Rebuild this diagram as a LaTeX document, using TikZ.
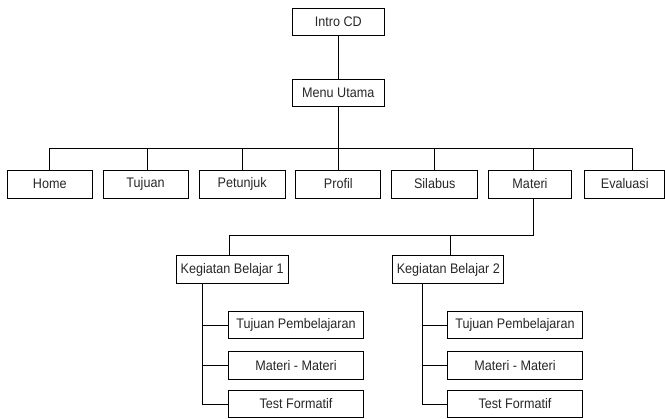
\documentclass[tikz,border=0pt]{standalone}
\usepackage{fontspec}
\usepackage{graphicx}
\setmainfont{Liberation Sans}
\newcommand{\tallT}[1]{\scalebox{1}[1.1]{#1}}
\begin{document}
\begin{tikzpicture}[x=1pt,y=-1pt,line width=0.9pt,
  box/.style={draw,rectangle,inner sep=0pt,minimum height=28pt,font=\fontsize{12.6}{14}\selectfont,text=black!85},
  conn/.style={draw,line width=0.9pt}]
\useasboundingbox (0,0) rectangle (665,419);
% level 0-1
\node[box,minimum width=92pt,minimum height=27pt] (intro) at (338.3,21.7) {\tallT{Intro CD}};
\node[box,minimum width=92pt,minimum height=27.5pt] (menu) at (338.3,93) {\tallT{Menu Utama}};
% level 2
\node[box,minimum width=85pt] (home) at (49.8,184) {\tallT{Home}};
\node[box,minimum width=85pt] (tujuan) at (145.5,184) {\tallT{Tujuan}};
\node[box,minimum width=86pt] (petunjuk) at (242.2,184) {\tallT{Petunjuk}};
\node[box,minimum width=85pt] (profil) at (338.3,184) {\tallT{Profil}};
\node[box,minimum width=86pt] (silabus) at (434.7,184) {\tallT{Silabus}};
\node[box,minimum width=83.4pt] (materi) at (530,184) {\tallT{Materi}};
\node[box,minimum width=80pt,anchor=west] (evaluasi) at (584.3,184) {\tallT{Evaluasi}};
% level 3
\node[box,minimum width=112pt] (kb1) at (232.2,269.7) {\tallT{Kegiatan Belajar 1}};
\node[box,minimum width=111pt] (kb2) at (448.3,269.7) {\tallT{Kegiatan Belajar 2}};
% level 4
\node[box,minimum width=135.4pt,minimum height=27.5pt] (tp1) at (296,325) {\tallT{Tujuan Pembelajaran}};
\node[box,minimum width=135.4pt,minimum height=27.5pt] (mm1) at (296,365.5) {\tallT{Materi - Materi}};
\node[box,minimum width=135.4pt,minimum height=27.5pt] (tf1) at (296,404) {\tallT{Test Formatif}};
\node[box,minimum width=135.4pt,minimum height=27.5pt] (tp2) at (515,325) {\tallT{Tujuan Pembelajaran}};
\node[box,minimum width=135.4pt,minimum height=27.5pt] (mm2) at (515,365.5) {\tallT{Materi - Materi}};
\node[box,minimum width=135.4pt,minimum height=27.5pt] (tf2) at (515,404) {\tallT{Test Formatif}};
% bus coordinates
\coordinate (j1) at (49,148.3);
\coordinate (j2) at (147,148.3);
\coordinate (j3) at (242.7,148.3);
\coordinate (jm) at (338.3,148.3);
\coordinate (j5) at (434,148.3);
\coordinate (j6) at (533.3,148.3);
\coordinate (j7) at (632.3,148.3);
\coordinate (k1) at (229.3,235.7);
\coordinate (k2) at (450.7,235.7);
\coordinate (km) at (533.3,235.7);
\coordinate (s1) at (202.7,283.7);
\coordinate (s2) at (422.3,283.7);
% connectors
\draw[conn] (intro) -- (menu);
\draw[conn] (menu.south) -- (jm);
\draw[conn] (j1) -- (j7);
\draw[conn] (j1) -- (j1 |- home.north);
\draw[conn] (j2) -- (j2 |- tujuan.north);
\draw[conn] (j3) -- (j3 |- petunjuk.north);
\draw[conn] (jm) -- (jm |- profil.north);
\draw[conn] (j5) -- (j5 |- silabus.north);
\draw[conn] (j6) -- (j6 |- materi.north);
\draw[conn] (j7) -- (j7 |- evaluasi.north);
\draw[conn] (km |- materi.south) -- (km) -- (k1) -- (k1 |- kb1.north);
\draw[conn] (k2) -- (k2 |- kb2.north);
\draw[conn] (s1) -- (s1 |- tf1.west) -- (tf1.west);
\draw[conn] (s1 |- tp1.west) -- (tp1.west);
\draw[conn] (s1 |- mm1.west) -- (mm1.west);
\draw[conn] (s2) -- (s2 |- tf2.west) -- (tf2.west);
\draw[conn] (s2 |- tp2.west) -- (tp2.west);
\draw[conn] (s2 |- mm2.west) -- (mm2.west);
\end{tikzpicture}
\end{document}
